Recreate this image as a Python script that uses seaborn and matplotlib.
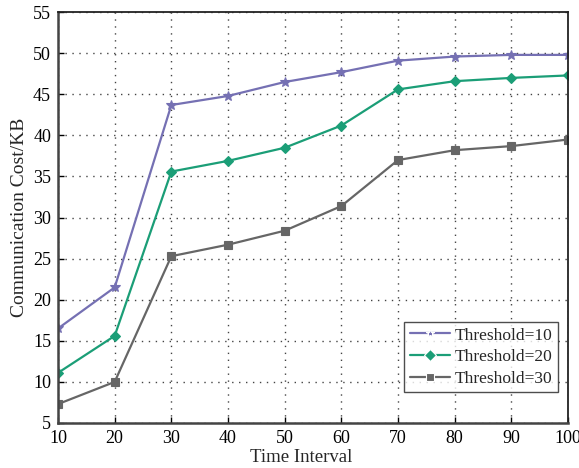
import matplotlib
matplotlib.use("Agg")
import matplotlib.pyplot as plt
import seaborn as sns
import pandas as pd

time_interval = [10, 20, 30, 40, 50, 60, 70, 80, 90, 100]
threshold_10 = [16.5, 21.5, 43.7, 44.8, 46.5, 47.7, 49.1, 49.6, 49.8, 49.8]
threshold_20 = [11.1, 15.6, 35.6, 36.9, 38.5, 41.2, 45.6, 46.6, 47.0, 47.3]
threshold_30 = [7.3, 10.0, 25.3, 26.7, 28.4, 31.4, 37.0, 38.2, 38.7, 39.5]
series_names = ["Threshold=10", "Threshold=20", "Threshold=30"]

sns.set_style("white")
plt.rcParams["font.family"] = ["Liberation Serif", "DejaVu Serif"]

df = pd.concat([
    pd.DataFrame({"Time Interval": time_interval, "Cost": vals, "Series": name})
    for name, vals in zip(series_names, [threshold_10, threshold_20, threshold_30])
])

fig = plt.figure(figsize=(5.79, 4.68), dpi=100)
ax = fig.add_axes([0.1002, 0.0962, 0.8808, 0.8778])

palette = {"Threshold=10": "#7570b3", "Threshold=20": "#1b9e77", "Threshold=30": "#666666"}
markers = {"Threshold=10": "*", "Threshold=20": "D", "Threshold=30": "s"}
sizes = {"Threshold=10": 7.5, "Threshold=20": 5.5, "Threshold=30": 5.5}

sns.lineplot(data=df, x="Time Interval", y="Cost", hue="Series", style="Series",
             palette=palette, markers=markers, dashes=False, linewidth=1.6,
             markersize=6, markeredgewidth=0.8, ax=ax)
for line, name in zip(ax.get_lines(), series_names):
    line.set_markersize(sizes[name])
    line.set_markeredgecolor(palette[name])

ax.set_xlim(10, 100)
ax.set_ylim(5, 55)
ax.set_xticks(range(10, 101, 10))
ax.set_yticks(range(5, 56, 5))
ax.grid(True, color="#444444", linestyle=(0, (1, 4)), linewidth=1.0)
ax.tick_params(direction="in", length=4, width=1, labelsize=13, colors="black",
               top=False, right=False, bottom=True, left=True, pad=5)
for sp in ax.spines.values():
    sp.set_color("#222222")
    sp.set_linewidth(1.3)
for side in ("left", "bottom"):
    ax.spines[side].set_color("#444444")
    ax.spines[side].set_linewidth(1.8)

ax.set_xlabel("Time Interval", fontsize=13.5)
ax.set_ylabel("Communication Cost/KB", fontsize=14)
ax.xaxis.set_label_coords(0.476, -0.064)
ax.yaxis.set_label_coords(-0.058, 0.5)

handles, labels = ax.get_legend_handles_labels()
leg = ax.legend(handles, labels, loc="lower right", bbox_to_anchor=(0.98, 0.075),
                fontsize=12.5, frameon=True, fancybox=False, edgecolor="#222222",
                handlelength=2.3, handletextpad=0.3, borderpad=0.3, labelspacing=0.32,
                borderaxespad=0.0)
leg.get_frame().set_linewidth(1.0)

fig.savefig("out.png", dpi=100)
